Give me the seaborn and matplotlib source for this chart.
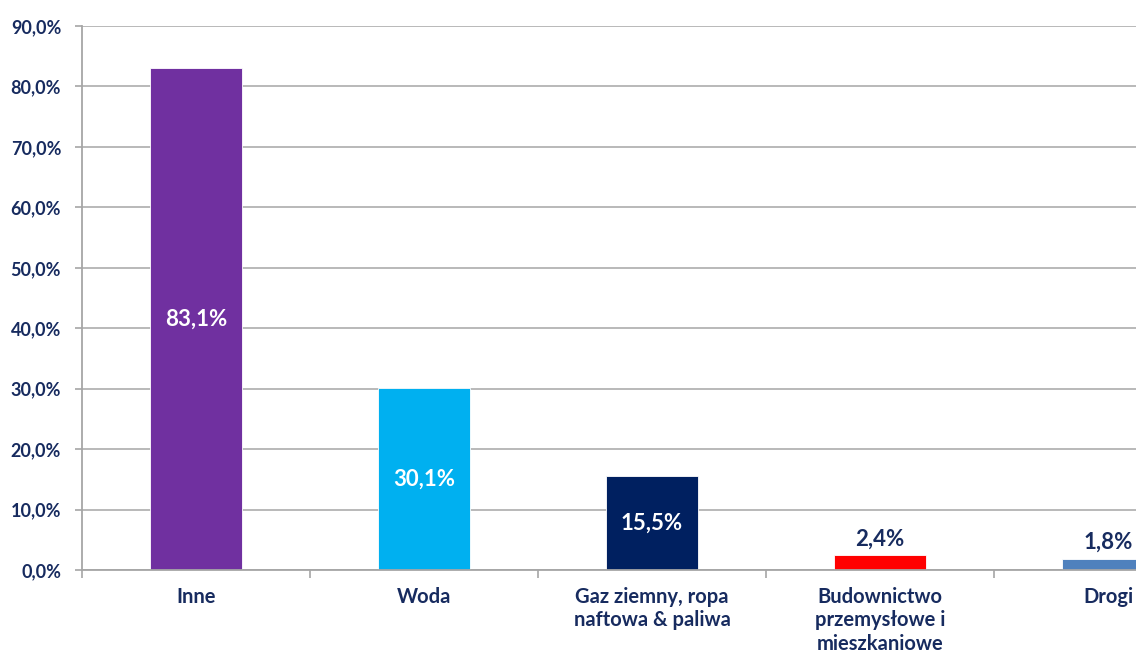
import matplotlib
matplotlib.use("Agg")
import matplotlib.pyplot as plt
import seaborn as sns
import pandas as pd
from matplotlib.ticker import FixedLocator, FuncFormatter

categories = ["Inne", "Woda", "Gaz ziemny, ropa\nnaftowa & paliwa",
              "Budownictwo\nprzemysłowe i\nmieszkaniowe", "Drogi"]
values = [83.1, 30.1, 15.5, 2.4, 1.8]
colors = ["#7030A0", "#00B0F0", "#002060", "#FF0000", "#4F81BD"]
value_labels = ["83,1%", "30,1%", "15,5%", "2,4%", "1,8%"]
y_ticks = [0, 10, 20, 30, 40, 50, 60, 70, 80, 90]

sns.set_theme(style="white")
plt.rcParams["font.family"] = ["Lato", "DejaVu Sans"]

navy = "#172B5F"
W, H = 1136, 652
fig = plt.figure(figsize=(W / 100, H / 100), dpi=100)
left, right, bottom, top = 82, 1222, 570, 26
ax = fig.add_axes([left / W, 1 - bottom / H, (right - left) / W, (bottom - top) / H])

df = pd.DataFrame({"cat": categories, "val": values})
sns.barplot(data=df, x="cat", y="val", hue="cat", palette=colors, dodge=False,
            width=0.4, legend=False, ax=ax, saturation=1, edgecolor="white", linewidth=0.6)

ax.set_xlim(-0.5, 4.5)
ax.set_ylim(0, 90)
ax.yaxis.set_major_locator(FixedLocator(y_ticks))
ax.yaxis.set_major_formatter(FuncFormatter(lambda v, p: f"{v:.1f}".replace(".", ",") + "%"))
ax.grid(axis="y", color="#B3B3B3", linewidth=1.3)
ax.set_axisbelow(True)
for s in ["top", "right"]:
    ax.spines[s].set_visible(False)
for s in ["left", "bottom"]:
    ax.spines[s].set_color("#A6A6A6")
    ax.spines[s].set_linewidth(1.3)

ax.tick_params(axis="y", which="major", length=5, width=1.2, color="#A6A6A6",
               direction="out", labelsize=13, labelcolor=navy, pad=10, left=True)
for t in ax.get_yticklabels():
    t.set_fontweight("bold")

ax.set_xticks(range(len(categories)))
ax.set_xticklabels(categories, fontsize=14.5, fontweight="bold", color=navy, linespacing=1.22,
                   va="top")
ax.tick_params(axis="x", which="major", length=0, pad=12)
ax.xaxis.set_minor_locator(FixedLocator([-0.5 + i for i in range(6)]))
ax.tick_params(axis="x", which="minor", length=6, width=1.2, color="#A6A6A6",
               direction="out", bottom=True)
ax.set_xlabel("")
ax.set_ylabel("")

for i, (v, lab) in enumerate(zip(values, value_labels)):
    if v > 10:
        ax.text(i, v / 2, lab, ha="center", va="center", color="white",
                fontsize=16, fontweight="bold")
    else:
        ax.text(i, v + 1.0, lab, ha="center", va="bottom", color=navy,
                fontsize=16, fontweight="bold")

fig.savefig("out.png", dpi=100)
